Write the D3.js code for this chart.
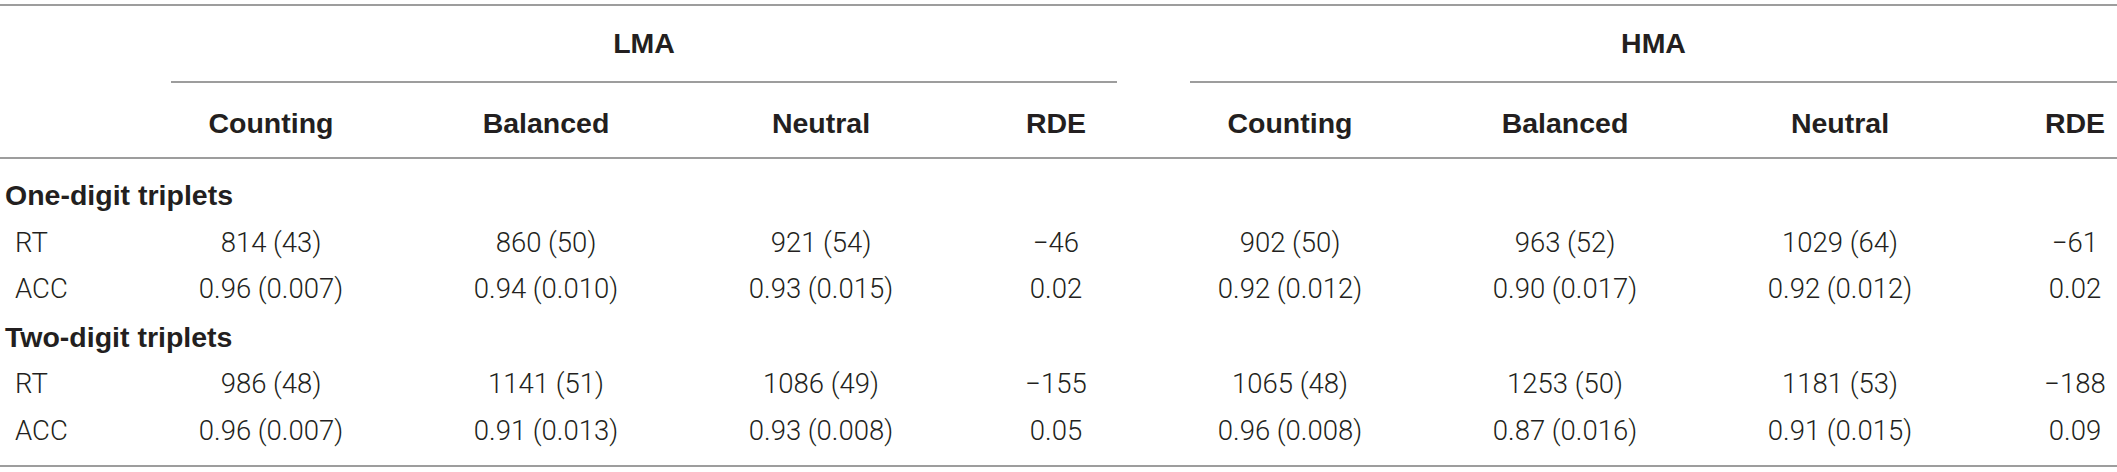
<!DOCTYPE html>
<html>
<head>
<meta charset="utf-8">
<script src="https://cdn.jsdelivr.net/npm/d3@7"></script>
<style>
  html, body { margin: 0; padding: 0; background: #fff; }
  .bold { font-family: "Liberation Sans", Arial, sans-serif; font-weight: 700; }
  .light { font-family: Roboto, "Liberation Sans", sans-serif; font-weight: 300; }
</style>
</head>
<body>
<svg id="table" width="2117" height="472"></svg>
<script>
// table content
const groups = ["LMA", "HMA"];
const conditions = ["Counting", "Balanced", "Neutral", "RDE"];
const sections = ["One-digit triplets", "Two-digit triplets"];
const measures = ["RT", "ACC"];

// Counting, Balanced, Neutral for LMA then HMA
const rtOneMean = [814, 860, 921, 902, 963, 1029];
const rtOneSE = [43, 50, 54, 50, 52, 64];
const accOneMean = [0.96, 0.94, 0.93, 0.92, 0.90, 0.92];
const accOneSE = [0.007, 0.010, 0.015, 0.012, 0.017, 0.012];
const rtTwoMean = [986, 1141, 1086, 1065, 1253, 1181];
const rtTwoSE = [48, 51, 49, 48, 50, 53];
const accTwoMean = [0.96, 0.91, 0.93, 0.96, 0.87, 0.91];
const accTwoSE = [0.007, 0.013, 0.008, 0.008, 0.016, 0.015];

// RDE, LMA then HMA
const rdeRTOne = [-46, -61];
const rdeACCOne = [0.02, 0.02];
const rdeRTTwo = [-155, -188];
const rdeACCTwo = [0.05, 0.09];

const svg = d3.select("#table");
const width = +svg.attr("width");
const textColor = "#231f20";
const ruleColor = "#7d7d7d";
const boldSize = 28.5;
const bodySize = 27.5;

const groupX = d3.scaleOrdinal().domain(groups).range([0, 1019]);
const colX = d3.scaleOrdinal().domain(conditions).range([271, 546, 821, 1056]);

const rowKeys = ["top", "group", "groupRule", "head", "headRule", "s0", "s0RT", "s0ACC", "s1", "s1RT", "s1ACC", "bottom"];
const rowY = d3.scaleOrdinal().domain(rowKeys)
  .range([5, 43, 82, 123, 158, 195, 242, 288, 337, 383, 430, 466]);

const fmtRT = d3.format("d");
const fmtACC = d3.format(".2f");
const fmtSE = d3.format(".3f");
const minus = s => s.replace("-", "\u2212");

// build rows of cells
const rows = [];
const sectionData = [
  { rt: [rtOneMean, rtOneSE], acc: [accOneMean, accOneSE], rde: [rdeRTOne, rdeACCOne] },
  { rt: [rtTwoMean, rtTwoSE], acc: [accTwoMean, accTwoSE], rde: [rdeRTTwo, rdeACCTwo] }
];
sections.forEach((sec, si) => {
  const sd = sectionData[si];
  measures.forEach((m, mi) => {
    const cells = [];
    groups.forEach((g, gi) => {
      conditions.forEach((c, ci) => {
        let txt;
        if (c === "RDE") {
          const v = sd.rde[mi][gi];
          txt = minus(mi === 0 ? fmtRT(v) : fmtACC(v));
        } else {
          const k = gi * 3 + ci;
          if (mi === 0) txt = `${sd.rt[0][k]} (${sd.rt[1][k]})`;
          else txt = `${fmtACC(sd.acc[0][k])} (${fmtSE(sd.acc[1][k])})`;
        }
        cells.push({ x: groupX(g) + colX(c), text: txt });
      });
    });
    rows.push({ key: `s${si}${m}`, label: m, cells: cells });
  });
});

// full width rules
svg.selectAll(".rule")
  .data(["top", "headRule", "bottom"])
  .enter()
  .append("line")
  .attr("class", "rule")
  .attr("x1", 0)
  .attr("x2", width)
  .attr("y1", d => rowY(d))
  .attr("y2", d => rowY(d))
  .attr("stroke", ruleColor)
  .attr("stroke-width", 1.6);

// rules under LMA / HMA
svg.selectAll(".grule")
  .data(groups)
  .enter()
  .append("line")
  .attr("class", "grule")
  .attr("x1", d => groupX(d) + 171)
  .attr("x2", d => Math.min(width, groupX(d) + 1117))
  .attr("y1", rowY("groupRule"))
  .attr("y2", rowY("groupRule"))
  .attr("stroke", ruleColor)
  .attr("stroke-width", 1.6);

// group headers
svg.selectAll(".ghead")
  .data(groups)
  .enter()
  .append("text")
  .attr("class", "ghead bold")
  .attr("x", d => (groupX(d) + 171 + Math.min(width, groupX(d) + 1117)) / 2)
  .attr("y", rowY("group"))
  .attr("dy", "0.36em")
  .attr("text-anchor", "middle")
  .attr("font-size", boldSize)
  .attr("fill", textColor)
  .text(d => d);

// column headers
const heads = [];
groups.forEach(g => conditions.forEach(c => heads.push({ g, c })));
svg.selectAll(".chead")
  .data(heads)
  .enter()
  .append("text")
  .attr("class", "chead bold")
  .attr("x", d => groupX(d.g) + colX(d.c))
  .attr("y", rowY("head"))
  .attr("dy", "0.36em")
  .attr("text-anchor", "middle")
  .attr("font-size", boldSize)
  .attr("fill", textColor)
  .text(d => d.c);

// section labels
svg.selectAll(".section")
  .data(sections)
  .enter()
  .append("text")
  .attr("class", "section bold")
  .attr("x", 5)
  .attr("y", (d, i) => rowY("s" + i))
  .attr("dy", "0.36em")
  .attr("font-size", boldSize)
  .attr("fill", textColor)
  .text(d => d);

// data rows
const rowG = svg.selectAll(".row")
  .data(rows)
  .enter()
  .append("g")
  .attr("class", "row")
  .attr("transform", d => `translate(0, ${rowY(d.key)})`);

rowG.append("text")
  .attr("class", "light")
  .attr("x", 15)
  .attr("dy", "0.36em")
  .attr("font-size", bodySize)
  .attr("fill", textColor)
  .text(d => d.label);

rowG.selectAll(".cell")
  .data(d => d.cells)
  .enter()
  .append("text")
  .attr("class", "cell light")
  .attr("x", d => d.x)
  .attr("dy", "0.36em")
  .attr("text-anchor", "middle")
  .attr("font-size", bodySize)
  .attr("fill", textColor)
  .text(d => d.text);
</script>
</body>
</html>
